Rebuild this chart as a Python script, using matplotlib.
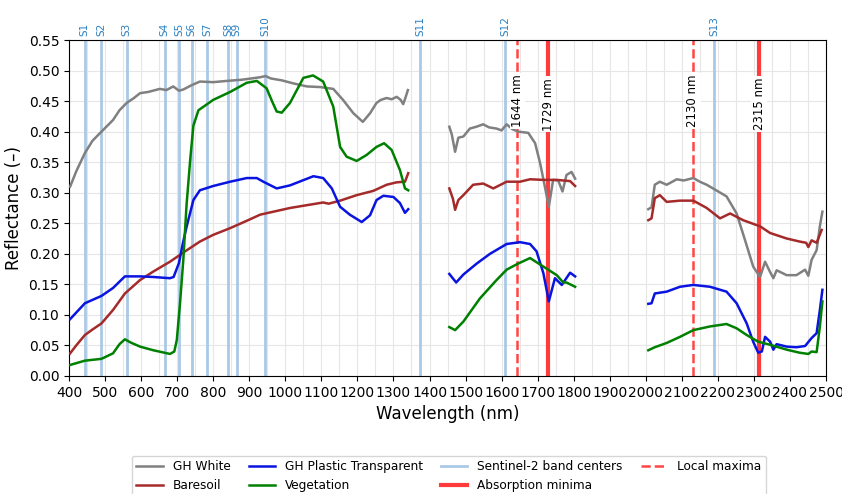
import numpy as np
import matplotlib
matplotlib.use("Agg")
import matplotlib.pyplot as plt
from matplotlib.ticker import MultipleLocator
from matplotlib.lines import Line2D

nan = np.nan

# wavelengths (nm) / reflectance, NaN breaks the water absorption gaps
white_wl = [403, 420, 444, 465, 490, 522, 540, 560, 580, 597, 620, 652, 670, 689, 705, 717, 740, 763,
            800, 837, 880, 930, 945, 960, 990, 1022, 1060, 1096, 1133, 1160, 1189, 1215, 1235, 1253,
            1265, 1281, 1295, 1309, 1320, 1327, 1333, 1340,
            1400,
            1455, 1462, 1471, 1480, 1494, 1512, 1530, 1549, 1565, 1586, 1600, 1614, 1630, 1646, 1674,
            1693, 1707, 1720, 1731, 1743, 1757, 1769, 1780, 1794, 1804,
            1900,
            2007, 2016, 2025, 2039, 2058, 2086, 2105, 2132, 2150, 2169, 2201, 2224, 2252, 2275, 2298,
            2317, 2331, 2345, 2354, 2363, 2391, 2418, 2442, 2451, 2460, 2474, 2483, 2490]
white_r = [0.310, 0.335, 0.365, 0.385, 0.400, 0.419, 0.435, 0.447, 0.455, 0.463, 0.465, 0.470, 0.468,
           0.474, 0.467, 0.469, 0.476, 0.482, 0.481, 0.483, 0.485, 0.489, 0.491, 0.487, 0.484, 0.479,
           0.474, 0.473, 0.470, 0.452, 0.430, 0.416, 0.430, 0.447, 0.452, 0.455, 0.453, 0.457, 0.452,
           0.445, 0.455, 0.468,
           nan,
           0.408, 0.395, 0.367, 0.390, 0.392, 0.405, 0.408, 0.412, 0.407, 0.405, 0.402, 0.412, 0.404,
           0.400, 0.398, 0.381, 0.348, 0.310, 0.277, 0.321, 0.320, 0.302, 0.329, 0.334, 0.323,
           nan,
           0.273, 0.276, 0.313, 0.318, 0.313, 0.322, 0.320, 0.324, 0.318, 0.313, 0.302, 0.294, 0.266,
           0.223, 0.179, 0.162, 0.187, 0.170, 0.160, 0.173, 0.165, 0.165, 0.174, 0.164, 0.190, 0.206,
           0.245, 0.269]

soil_wl = [403, 420, 444, 465, 490, 522, 555, 597, 634, 680, 717, 763, 800, 847, 893, 930, 945, 1013,
           1105, 1120, 1152, 1198, 1244, 1281, 1309, 1332, 1341,
           1400,
           1455, 1465, 1471, 1480, 1494, 1521, 1549, 1577, 1614, 1651, 1679, 1716, 1753, 1790, 1804,
           1900,
           2007, 2016, 2025, 2039, 2058, 2095, 2132, 2169, 2206, 2234, 2270, 2317, 2345, 2391, 2427,
           2445, 2451, 2460, 2474, 2488]
soil_r = [0.037, 0.050, 0.067, 0.076, 0.086, 0.108, 0.135, 0.157, 0.171, 0.187, 0.202, 0.220, 0.231,
          0.242, 0.254, 0.264, 0.266, 0.275, 0.284, 0.282, 0.287, 0.296, 0.303, 0.313, 0.317, 0.318,
          0.332,
          nan,
          0.307, 0.290, 0.272, 0.288, 0.296, 0.313, 0.315, 0.307, 0.318, 0.318, 0.322, 0.321, 0.321,
          0.319, 0.311,
          nan,
          0.255, 0.258, 0.291, 0.296, 0.285, 0.287, 0.287, 0.275, 0.258, 0.266, 0.255, 0.245, 0.234,
          0.225, 0.220, 0.218, 0.211, 0.222, 0.218, 0.239]

plastic_wl = [403, 444, 490, 522, 555, 597, 634, 680, 690, 705, 715, 726, 745, 763, 800, 847, 893, 921,
              939, 976, 1013, 1078, 1105, 1129, 1152, 1179, 1212, 1235, 1253, 1272, 1300, 1318, 1332,
              1341,
              1400,
              1455, 1474, 1494, 1531, 1568, 1614, 1651, 1679, 1697, 1716, 1731, 1748, 1767, 1790, 1804,
              1900,
              2007, 2016, 2025, 2058, 2095, 2132, 2178, 2224, 2252, 2280, 2298, 2312, 2322, 2331, 2345,
              2354, 2363, 2391, 2418, 2442, 2460, 2474, 2483, 2490]
plastic_r = [0.093, 0.119, 0.131, 0.144, 0.163, 0.163, 0.162, 0.160, 0.162, 0.185, 0.215, 0.244, 0.288,
             0.304, 0.311, 0.318, 0.324, 0.324, 0.318, 0.307, 0.312, 0.327, 0.324, 0.307, 0.277, 0.264,
             0.252, 0.263, 0.288, 0.295, 0.293, 0.283, 0.267, 0.273,
             nan,
             0.167, 0.153, 0.166, 0.184, 0.200, 0.216, 0.219, 0.216, 0.204, 0.168, 0.122, 0.160, 0.149,
             0.169, 0.163,
             nan,
             0.118, 0.119, 0.135, 0.138, 0.146, 0.149, 0.146, 0.138, 0.119, 0.086, 0.056, 0.038, 0.040,
             0.064, 0.056, 0.043, 0.052, 0.048, 0.047, 0.049, 0.062, 0.070, 0.108, 0.141]

veg_wl = [403, 444, 490, 522, 540, 555, 570, 597, 634, 680, 692, 699, 708, 717, 726, 736, 745, 759, 800,
          847, 893, 921, 948, 963, 976, 990, 1013, 1050, 1077, 1105, 1133, 1152, 1170, 1198, 1226, 1253,
          1274, 1295, 1318, 1332, 1341,
          1400,
          1455, 1471, 1494, 1540, 1586, 1614, 1646, 1679, 1716, 1753, 1771, 1780, 1804,
          1900,
          2007, 2025, 2058, 2095, 2132, 2178, 2224, 2252, 2280, 2312, 2345, 2391, 2427, 2451, 2460, 2474,
          2483, 2490]
veg_r = [0.018, 0.025, 0.028, 0.037, 0.052, 0.060, 0.055, 0.048, 0.042, 0.036, 0.040, 0.059, 0.120,
         0.190, 0.280, 0.353, 0.410, 0.435, 0.452, 0.465, 0.480, 0.483, 0.471, 0.450, 0.433, 0.431, 0.447,
         0.488, 0.492, 0.482, 0.441, 0.375, 0.359, 0.352, 0.362, 0.375, 0.381, 0.370, 0.337, 0.307, 0.304,
         nan,
         0.080, 0.075, 0.089, 0.127, 0.157, 0.174, 0.184, 0.193, 0.179, 0.165, 0.153, 0.153, 0.146,
         nan,
         0.042, 0.047, 0.054, 0.064, 0.075, 0.081, 0.085, 0.078, 0.067, 0.056, 0.051, 0.043, 0.038, 0.036,
         0.040, 0.039, 0.081, 0.122]

band_names = ["S1", "S2", "S3", "S4", "S5", "S6", "S7", "S8", "S9", "S10", "S11", "S12", "S13"]
band_centers = [443, 490, 560, 665, 705, 740, 783, 842, 865, 945, 1375, 1610, 2190]

maxima_nm = [1644, 2130]
minima_nm = [1729, 2315]

fig = plt.figure(figsize=(8.42, 4.94), dpi=100)
ax = fig.add_axes([0.082, 0.239, 0.899, 0.680])

for c in band_centers:
    ax.axvline(c, color="#a9c9e6", lw=2, zorder=1)
for name, c in zip(band_names, band_centers):
    ax.text(c, 1.012, name, transform=ax.get_xaxis_transform(), rotation=90,
            ha="center", va="bottom", fontsize=7.5, color="#2a7fc0")

ax.plot(white_wl, white_r, color="gray", lw=1.8, zorder=3)
ax.plot(soil_wl, soil_r, color="#a52a2a", lw=1.8, zorder=3)
ax.plot(plastic_wl, plastic_r, color="#0a14e0", lw=1.8, zorder=3)
ax.plot(veg_wl, veg_r, color="green", lw=1.8, zorder=3)

for m in maxima_nm:
    ax.axvline(m, color="#ff4545", lw=1.8, ls="--", zorder=2)
    ax.text(m, 0.45, f"{m} nm", rotation=90, ha="center", va="center", fontsize=8.5,
            bbox=dict(facecolor="white", edgecolor="none", pad=1), zorder=4)
for m in minima_nm:
    ax.axvline(m, color="#ff3b3b", lw=3, zorder=2)
    ax.text(m, 0.445, f"{m} nm", rotation=90, ha="center", va="center", fontsize=8.5,
            bbox=dict(facecolor="white", edgecolor="none", pad=1), zorder=4)

ax.set_xlim(400, 2500)
ax.set_ylim(0, 0.55)
ax.xaxis.set_major_locator(MultipleLocator(100))
ax.xaxis.set_minor_locator(MultipleLocator(50))
ax.yaxis.set_major_locator(MultipleLocator(0.05))
ax.tick_params(which="minor", length=0)
ax.tick_params(labelsize=10)
ax.grid(True, which="both", color="#e6e6e6", lw=0.8, ls="-", zorder=0)
ax.set_axisbelow(True)
ax.set_xlabel("Wavelength (nm)", fontsize=12)
ax.set_ylabel("Reflectance (–)", fontsize=12)

handles = [
    Line2D([], [], color="gray", lw=1.8, label="GH White"),
    Line2D([], [], color="#a52a2a", lw=1.8, label="Baresoil"),
    Line2D([], [], color="#0a14e0", lw=1.8, label="GH Plastic Transparent"),
    Line2D([], [], color="green", lw=1.8, label="Vegetation"),
    Line2D([], [], color="#a9c9e6", lw=2, label="Sentinel-2 band centers"),
    Line2D([], [], color="#ff3b3b", lw=3, label="Absorption minima"),
    Line2D([], [], color="#ff4545", lw=1.8, ls="--", label="Local maxima"),
]
fig.legend(handles=handles, loc="upper center", bbox_to_anchor=(0.533, 0.09), ncol=4,
           fontsize=8.7, frameon=True, handlelength=2.2, columnspacing=1.5)

fig.savefig("out.png", dpi=100)
